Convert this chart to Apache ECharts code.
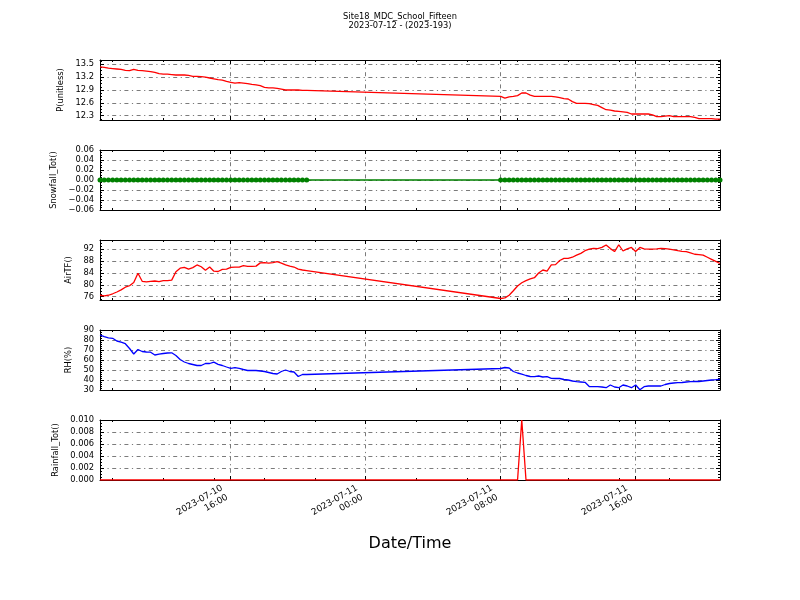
<!DOCTYPE html>
<html><head><meta charset="utf-8">
<script src="https://cdn.jsdelivr.net/npm/echarts@6/dist/echarts.min.js"></script>
<style>html,body{margin:0;padding:0;background:#fff}#c{width:800px;height:600px}</style>
</head><body><div id="c"></div>
<script>
// ---- time layout (15-minute samples, two recorded segments) ----
const seg1Start = '2023-07-10T08:15:00Z';
const seg2Start = '2023-07-11T08:00:00Z';
const stepMinutes = 15;
const xStart = '2023-07-10T08:15:00Z';
const xEnd = '2023-07-11T21:00:00Z';
const xMajorTicks = ['2023-07-10T16:00:00Z','2023-07-11T00:00:00Z','2023-07-11T08:00:00Z','2023-07-11T16:00:00Z'];
const xMinorTicks = ['2023-07-10T09:00:00Z','2023-07-10T12:00:00Z','2023-07-10T15:00:00Z','2023-07-10T18:00:00Z','2023-07-10T21:00:00Z',
  '2023-07-11T00:00:00Z','2023-07-11T03:00:00Z','2023-07-11T06:00:00Z','2023-07-11T09:00:00Z','2023-07-11T12:00:00Z','2023-07-11T15:00:00Z','2023-07-11T18:00:00Z'];

// ---- series values ----
const pressure1 = [13.44,13.43,13.41,13.40,13.39,13.38,13.36,13.35,13.38,13.36,13.35,13.34,13.33,13.31,13.28,13.27,13.27,13.26,13.25,13.25,13.25,13.24,13.22,13.22,13.21,13.20,13.18,13.16,13.14,13.13,13.10,13.08,13.06,13.07,13.06,13.05,13.03,13.02,13.00,12.96,12.95,12.95,12.94,12.92,12.90,12.90,12.90,12.90,12.89,12.89];
const pressure2 = [12.75,12.71,12.74,12.75,12.77,12.83,12.83,12.78,12.75,12.75,12.75,12.75,12.75,12.74,12.72,12.70,12.69,12.63,12.59,12.59,12.59,12.58,12.56,12.54,12.49,12.44,12.43,12.41,12.40,12.39,12.38,12.34,12.34,12.34,12.34,12.34,12.32,12.28,12.28,12.29,12.30,12.28,12.28,12.28,12.28,12.28,12.26,12.23,12.23,12.23,12.23,12.22,12.22];
const snow1 = [0,0,0,0,0,0,0,0,0,0,0,0,0,0,0,0,0,0,0,0,0,0,0,0,0,0,0,0,0,0,0,0,0,0,0,0,0,0,0,0,0,0,0,0,0,0,0,0,0,0];
const snow2 = [0,0,0,0,0,0,0,0,0,0,0,0,0,0,0,0,0,0,0,0,0,0,0,0,0,0,0,0,0,0,0,0,0,0,0,0,0,0,0,0,0,0,0,0,0,0,0,0,0,0,0,0,0];
const airTF1 = [76.5,76.3,76.5,77.0,77.6,78.3,79.2,79.7,80.8,83.9,81.2,81.0,81.2,81.3,81.1,81.4,81.4,81.6,84.4,85.6,85.9,85.3,85.8,86.7,86.1,84.9,86.0,84.6,84.5,85.2,85.3,85.9,86.0,86.0,86.5,86.2,86.2,86.3,87.4,87.5,87.3,87.5,87.8,87.3,86.7,86.3,86.0,85.3,85.0,84.8];
const airTF2 = [75.4,75.6,76.5,78.0,79.6,80.7,81.4,82.0,82.4,84.0,85.0,84.6,86.7,86.8,88.2,88.9,88.9,89.3,90.0,90.6,91.5,92.0,92.3,92.2,92.6,93.4,92.2,91.2,93.5,91.4,92.1,92.6,91.2,92.6,92.1,92.0,92.0,92.1,92.3,92.2,92.0,91.8,91.5,91.3,91.2,90.8,90.3,90.2,90.0,89.3,88.6,87.9,87.2];
const rh1 = [85.0,83.3,82.2,81.7,79.0,77.8,76.3,71.5,66.0,70.5,68.5,68.0,67.8,65.0,65.8,66.5,67.0,67.2,64.5,60.5,58.0,56.5,55.5,54.5,54.5,56.5,56.5,57.8,55.7,54.5,53.0,51.7,52.3,51.7,50.5,49.5,49.5,49.5,49.0,48.5,47.5,46.5,46.0,48.5,50.0,48.5,48.0,43.5,45.5,45.5];
const rh2 = [51.5,52.5,52.0,48.5,47.0,45.8,44.5,43.5,43.3,44.0,43.0,43.3,41.7,41.5,41.5,40.5,40.0,39.0,38.3,38.0,37.7,33.5,33.3,33.3,33.0,32.3,35.0,33.0,32.3,35.0,34.0,32.3,35.0,30.2,33.3,34.0,34.0,34.0,34.0,35.5,36.5,37.0,37.3,37.5,38.0,38.3,38.5,38.5,39.0,39.5,40.0,40.3,40.7];
const rain1 = [0,0,0,0,0,0,0,0,0,0,0,0,0,0,0,0,0,0,0,0,0,0,0,0,0,0,0,0,0,0,0,0,0,0,0,0,0,0,0,0,0,0,0,0,0,0,0,0,0,0];
const rain2 = [0,0,0,0,0,0.01,0,0,0,0,0,0,0,0,0,0,0,0,0,0,0,0,0,0,0,0,0,0,0,0,0,0,0,0,0,0,0,0,0,0,0,0,0,0,0,0,0,0,0,0,0,0,0];

// ---- y tick labels ----
const pTicks = [12.3, 12.6, 12.9, 13.2, 13.5];
const snowTicks = [-0.06, -0.04, -0.02, 0.00, 0.02, 0.04, 0.06];
const airTicks = [76, 80, 84, 88, 92];
const rhTicks = [30, 40, 50, 60, 70, 80, 90];
const rainTicks = [0.000, 0.002, 0.004, 0.006, 0.008, 0.010];

const titleLine1 = 'Site18_MDC_School_Fifteen';
const titleLine2 = '2023-07-12 - (2023-193)';
const xTitle = 'Date/Time';

// ---------------------------------------------------------------
const FONT = 'DejaVu Sans';
const t = s => Date.parse(s);
const stepMs = stepMinutes * 60000;
function pairs(startIso, vals) { const s0 = t(startIso); return vals.map((v, i) => [s0 + i * stepMs, v]); }
function joined(a, b) { return pairs(seg1Start, a).concat(pairs(seg2Start, b)); }
function minorValues(min, max, step) {
  const out = []; const k0 = Math.ceil(min / step - 1e-9), k1 = Math.floor(max / step + 1e-9);
  for (let k = k0; k <= k1; k++) { const v = +(k * step).toFixed(8); if (v > min + 1e-12 && v < max - 1e-12) out.push(v); }
  return out;
}
const pad2 = n => String(n).padStart(2, '0');
function fmtX(v) { const d = new Date(v); return d.getUTCFullYear() + '-' + pad2(d.getUTCMonth() + 1) + '-' + pad2(d.getUTCDate()) + '\n' + pad2(d.getUTCHours()) + ':' + pad2(d.getUTCMinutes()); }

const panels = [
  { name: 'P(unitless)', ticks: pTicks, min: 12.2, max: 13.6, minor: 0.075, dec: 1, gap: 32, color: '#ff0000', data: joined(pressure1, pressure2) },
  { name: 'Snowfall_Tot()', ticks: snowTicks, min: -0.06, max: 0.06, minor: 0.005, dec: 2, gap: 38, color: '#008000', data: joined(snow1, snow2), marker: true },
  { name: 'AirTF()', ticks: airTicks, min: 74.9, max: 95.1, minor: 1, dec: 0, gap: 24.5, color: '#ff0000', data: joined(airTF1, airTF2) },
  { name: 'RH(%)', ticks: rhTicks, min: 30, max: 90, minor: 2, dec: 0, gap: 24, color: '#0000ff', data: joined(rh1, rh2) },
  { name: 'Rainfall_Tot()', ticks: rainTicks, min: 0, max: 0.01, minor: 0.0005, dec: 3, gap: 35.5, color: '#ff0000', data: joined(rain1, rain2) }
];

const xMin = t(xStart), xMax = t(xEnd);
const xMaj = xMajorTicks.map(t), xMin3 = xMinorTicks.map(t);
const black = '#000';
const gridDash = { color: '#222', width: 0.6, type: [4, 3.5, 1.2, 3.5] };

const grids = [], xAxes = [], yAxes = [], series = [];
panels.forEach((p, g) => {
  grids.push({ left: 100, width: 620, top: 60 + 90 * g, height: 60 });
  const last = g === panels.length - 1;
  const xBase = { type: 'value', gridIndex: g, min: xMin, max: xMax, splitLine: { show: false }, axisLabel: { show: false }, axisLine: { show: false, onZero: false } };
  xAxes.push(Object.assign({}, xBase, {
    position: 'bottom',
    axisLine: { show: true, onZero: false, lineStyle: { color: black, width: 1 } },
    axisTick: { show: true, inside: true, length: 4, customValues: xMaj, lineStyle: { color: black, width: 1 } },
    axisLabel: { show: last, customValues: xMaj, formatter: fmtX, rotate: 30, fontFamily: FONT, fontSize: 8.9, lineHeight: 10.6, color: black, margin: 8.5, padding: [0, 7, 0, 0] },
    splitLine: { show: true, lineStyle: gridDash }
  }));
  xAxes.push(Object.assign({}, xBase, { position: 'bottom', axisTick: { show: true, inside: true, length: 2, customValues: xMin3, lineStyle: { color: black, width: 1 } } }));
  xAxes.push(Object.assign({}, xBase, { position: 'top', axisLine: { show: true, onZero: false, lineStyle: { color: black, width: 1 } }, axisTick: { show: true, inside: true, length: 4, customValues: xMaj, lineStyle: { color: black, width: 1 } } }));
  xAxes.push(Object.assign({}, xBase, { position: 'top', axisTick: { show: true, inside: true, length: 2, customValues: xMin3, lineStyle: { color: black, width: 1 } } }));

  const yMinorVals = minorValues(p.min, p.max, p.minor);
  const yBase = { type: 'value', gridIndex: g, min: p.min, max: p.max, splitLine: { show: false }, axisLabel: { show: false }, axisLine: { show: false, onZero: false } };
  yAxes.push(Object.assign({}, yBase, {
    position: 'left',
    name: p.name, nameLocation: 'middle', nameGap: p.gap, nameRotate: 90,
    nameTextStyle: { fontFamily: FONT, fontSize: 8.3, color: black },
    axisLine: { show: true, onZero: false, lineStyle: { color: black, width: 1 } },
    axisTick: { show: true, inside: true, length: 4, customValues: p.ticks, lineStyle: { color: black, width: 1 } },
    axisLabel: { show: true, customValues: p.ticks, formatter: v => v.toFixed(p.dec).replace('-', '\u2212'), fontFamily: FONT, fontSize: 8.3, color: black, margin: 6 },
    splitLine: { show: true, lineStyle: gridDash }
  }));
  yAxes.push(Object.assign({}, yBase, { position: 'left', axisTick: { show: true, inside: true, length: 2, customValues: yMinorVals, lineStyle: { color: black, width: 1 } } }));
  yAxes.push(Object.assign({}, yBase, { position: 'right', axisLine: { show: true, onZero: false, lineStyle: { color: black, width: 1 } }, axisTick: { show: true, inside: true, length: 4, customValues: p.ticks, lineStyle: { color: black, width: 1 } } }));
  yAxes.push(Object.assign({}, yBase, { position: 'right', axisTick: { show: true, inside: true, length: 2, customValues: yMinorVals, lineStyle: { color: black, width: 1 } } }));

  series.push({
    type: 'line', xAxisIndex: 4 * g, yAxisIndex: 4 * g, data: p.data,
    showSymbol: !!p.marker, symbol: p.marker ? 'circle' : 'none', symbolSize: 5,
    itemStyle: { color: p.color }, lineStyle: { color: p.color, width: 1.3 },
    animation: false, silent: true, z: 3
  });
});

const chart = echarts.init(document.getElementById('c'), null, { renderer: 'canvas' });
chart.setOption({
  animation: false,
  backgroundColor: '#fff',
  grid: grids, xAxis: xAxes, yAxis: yAxes, series: series,
  graphic: [
    { type: 'text', x: 400, y: 17.3, style: { text: titleLine1, font: '8.3px "DejaVu Sans"', fill: black, textAlign: 'center', textVerticalAlign: 'middle' } },
    { type: 'text', x: 400, y: 26, style: { text: titleLine2, font: '8.3px "DejaVu Sans"', fill: black, textAlign: 'center', textVerticalAlign: 'middle' } },
    { type: 'text', x: 410, y: 544, style: { text: xTitle, font: '16px "DejaVu Sans"', fill: black, textAlign: 'center', textVerticalAlign: 'middle' } }
  ]
});
</script></body></html>
